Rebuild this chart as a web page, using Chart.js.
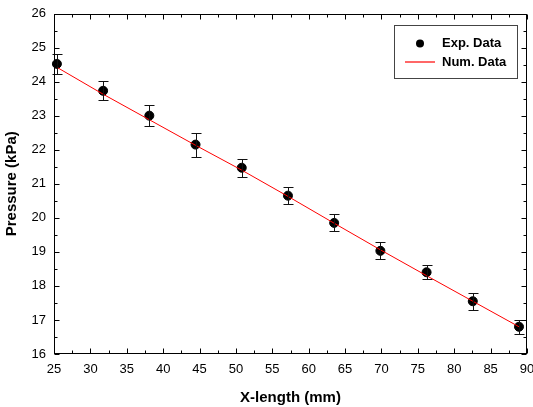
<!DOCTYPE html>
<html>
<head>
<meta charset="utf-8">
<script src="https://cdn.jsdelivr.net/npm/chart.js@4.4.0/dist/chart.umd.min.js"></script>
<style>
  html, body { margin: 0; padding: 0; background: #fff; }
  #wrap { width: 533px; height: 407px; position: relative; }
</style>
</head>
<body>
<div id="wrap"><canvas id="pressure-chart"></canvas></div>
<script>
// DATA ------------------------------------------------------

const xLength = [25.4, 31.75, 38.1, 44.45, 50.8, 57.15, 63.5, 69.85, 76.2, 82.55, 88.9];
const expPressure = [24.52, 23.73, 23.0, 22.15, 21.47, 20.65, 19.85, 19.03, 18.4, 17.55, 16.8];
const expError = [0.3, 0.28, 0.3, 0.35, 0.26, 0.25, 0.25, 0.25, 0.2, 0.25, 0.2];
const numPressure = [24.42, 23.63, 22.88, 22.13, 21.4, 20.63, 19.84, 19.06, 18.3, 17.55, 16.8];

const xTickValues = [25, 30, 35, 40, 45, 50, 55, 60, 65, 70, 75, 80, 85, 90];
const yTickValues = [16, 17, 18, 19, 20, 21, 22, 23, 24, 25, 26];

const FONT = "'Liberation Sans', Arial, sans-serif";

// PLUGINS ------------------------------------------------------

// error bars with caps on the experimental points
const errorBars = {
    id: 'errorBars',
    afterDatasetsDraw(chart) {
        const { ctx, scales: { x, y } } = chart;
        ctx.save();
        ctx.strokeStyle = '#111';
        ctx.lineWidth = 1;
        expPressure.forEach((p, i) => {
            const px = Math.round(x.getPixelForValue(xLength[i])) + 0.5;
            const top = Math.round(y.getPixelForValue(p + expError[i])) + 0.5;
            const bot = Math.round(y.getPixelForValue(p - expError[i])) + 0.5;
            ctx.beginPath();
            ctx.moveTo(px, top); ctx.lineTo(px, bot);
            ctx.moveTo(px - 5, top); ctx.lineTo(px + 5, top);
            ctx.moveTo(px - 5, bot); ctx.lineTo(px + 5, bot);
            ctx.stroke();
        });
        ctx.restore();
    }
};

// box frame with inward ticks on all four sides
const frameTicks = {
    id: 'frameTicks',
    afterDatasetsDraw(chart) {
        const { ctx, chartArea: a, scales: { x, y } } = chart;
        const L = Math.round(a.left) + 0.5, R = Math.round(a.right) - 0.5;
        const T = Math.round(a.top) + 0.5, B = Math.round(a.bottom) - 0.5;
        ctx.save();
        ctx.strokeStyle = '#000';
        ctx.lineWidth = 1;
        ctx.strokeRect(L, T, R - L, B - T);
        ctx.beginPath();
        for (let v = x.min; v <= x.max + 0.001; v += 2.5) {
            const px = Math.round(x.getPixelForValue(v)) + 0.5;
            const len = v % 5 === 0 ? 5 : 3;
            ctx.moveTo(px, B); ctx.lineTo(px, B - len);
            ctx.moveTo(px, T); ctx.lineTo(px, T + len);
        }
        for (let v = y.min; v <= y.max + 0.001; v += 0.5) {
            const py = Math.round(y.getPixelForValue(v)) + 0.5;
            const len = v % 1 === 0 ? 5 : 3;
            ctx.moveTo(L, py); ctx.lineTo(L + len, py);
            ctx.moveTo(R, py); ctx.lineTo(R - len, py);
        }
        ctx.stroke();
        ctx.restore();
    }
};

// legend box in the upper right corner
const boxLegend = {
    id: 'boxLegend',
    afterDraw(chart) {
        const ctx = chart.ctx;
        const sets = chart.data.datasets;
        ctx.save();
        ctx.fillStyle = '#fff';
        ctx.fillRect(394.5, 25.5, 123, 53);
        ctx.strokeStyle = '#444';
        ctx.lineWidth = 1;
        ctx.strokeRect(394.5, 25.5, 123, 53);

        ctx.fillStyle = '#000';
        ctx.beginPath();
        ctx.arc(420, 43.5, 4, 0, Math.PI * 2);
        ctx.fill();

        // soft red sample line, spread over two pixel rows
        ctx.strokeStyle = '#ff0000';
        ctx.lineWidth = 1.2;
        ctx.beginPath();
        ctx.moveTo(405, 62); ctx.lineTo(435, 62);
        ctx.stroke();

        ctx.fillStyle = '#000';
        ctx.font = 'bold 13px ' + FONT;
        ctx.textBaseline = 'middle';
        ctx.fillText(sets[0].label, 442, 43.5);
        ctx.fillText(sets[1].label, 442, 62);
        ctx.restore();
    }
};

// CHART ------------------------------------------------------

const pressureCanvas = document.getElementById('pressure-chart');

const pressureData = {
    datasets: [{
        label: 'Exp. Data',
        type: 'scatter',
        data: xLength.map((v, i) => ({ x: v, y: expPressure[i] })),
        backgroundColor: '#000',
        borderColor: '#000',
        pointRadius: 4.5,
        pointHoverRadius: 4.5,
        clip: false,
        order: 1
    }, {
        label: 'Num. Data',
        type: 'line',
        data: xLength.map((v, i) => ({ x: v, y: numPressure[i] })),
        borderColor: '#ff0000',
        borderWidth: 1,
        pointRadius: 0,
        fill: false,
        tension: 0,
        order: 0
    }]
};

const tickFont = { family: FONT, size: 13 };
const titleFont = { family: FONT, size: 15, weight: 'bold' };

const pressureOptions = {
    responsive: true,
    maintainAspectRatio: false,
    animation: false,
    devicePixelRatio: 1,
    layout: { padding: { top: 13.5, right: 6, left: 0, bottom: 0 } },
    scales: {
        x: {
            type: 'linear',
            min: 25,
            max: 90,
            afterBuildTicks: s => { s.ticks = xTickValues.map(v => ({ value: v })); },
            // the last label is allowed to run off the right edge
            afterFit: s => { s.height = 53; s.paddingLeft = 0; s.paddingRight = 0; },
            ticks: { font: tickFont, color: '#000', padding: 8, maxRotation: 0, autoSkip: false },
            grid: { display: false, drawTicks: false },
            border: { display: false },
            title: { display: true, text: 'X-length (mm)', font: titleFont, color: '#000', padding: { top: 4, bottom: 0 } }
        },
        y: {
            type: 'linear',
            min: 16,
            max: 26,
            afterBuildTicks: s => { s.ticks = yTickValues.map(v => ({ value: v })); },
            afterFit: s => { s.width = 54; s.paddingTop = 0; s.paddingBottom = 0; },
            ticks: { font: tickFont, color: '#000', padding: 8, autoSkip: false },
            grid: { display: false, drawTicks: false },
            border: { display: false },
            title: { display: true, text: 'Pressure (kPa)', font: titleFont, color: '#000', padding: { top: 3, bottom: 0 } }
        }
    },
    plugins: {
        legend: { display: false },
        tooltip: { enabled: false }
    }
};

let pressureChart = new Chart(pressureCanvas, {
    data: pressureData,
    options: pressureOptions,
    plugins: [errorBars, frameTicks, boxLegend]
});
</script>
</body>
</html>
